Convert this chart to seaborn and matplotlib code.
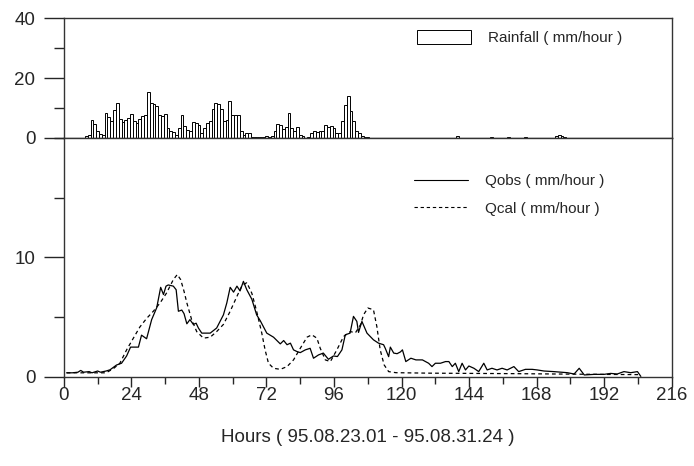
import matplotlib
matplotlib.use('Agg')
import matplotlib.pyplot as plt
import numpy as np
import pandas as pd
import seaborn as sns
from matplotlib.ticker import MultipleLocator

# hourly rainfall (mm/hour)
rain_hours = list(range(8, 109)) + [140, 152, 158, 164, 175, 176, 177, 178]
rain_mm = [0.5, 1.0, 6.0, 4.8, 2.2, 1.4, 1.1, 8.4, 7.0, 5.5,
           9.2, 11.6, 6.3, 5.3, 5.9, 6.7, 8.1, 5.6, 5.0, 6.3,
           7.4, 7.5, 15.2, 11.7, 11.4, 10.5, 7.8, 7.2, 8.0, 3.3,
           2.2, 1.9, 1.1, 3.3, 7.8, 4.1, 2.8, 2.4, 5.2, 5.0,
           4.4, 1.7, 3.3, 5.0, 5.6, 9.8, 11.7, 11.4, 9.8, 5.6,
           6.1, 12.4, 7.6, 7.6, 7.8, 2.4, 1.1, 1.5, 1.7, 0.3,
           0.3, 0.2, 0.2, 0.3, 0.5, 0.4, 0.5, 2.2, 4.7, 4.4,
           3.1, 3.5, 8.3, 3.3, 2.2, 3.5, 1.1, 0.5, 0.0, 0.3,
           1.7, 2.4, 2.0, 2.2, 2.4, 4.2, 3.5, 3.9, 3.3, 1.7,
           1.7, 5.6, 11.1, 13.9, 8.9, 5.6, 2.2, 1.7, 0.5, 0.3,
           0.2, 0.5, 0.15, 0.15, 0.15, 0.6, 0.9, 0.8, 0.4]

# observed discharge
qobs_hours = [1, 3, 5, 6, 7, 9, 10, 12, 13, 15, 16.4, 18.7, 20.5, 22.3, 23.7,
              26.5, 27.6, 29.4, 31.2, 33.0, 34.4, 35.4, 36.3, 37.1, 38.9,
              39.9, 40.7, 41.9, 42.7, 43.7, 44.8, 46.0, 47.0, 47.8, 49.0,
              52.0, 54.3, 56.7, 57.9, 59.1, 60.3, 61.5, 62.6, 63.8, 65.0,
              66.8, 68.5, 69.8, 72.1, 74.5, 76.9, 78.1, 79.3, 80.5, 81.6,
              82.8, 84.0, 85.8, 87.5, 88.7, 90.5, 92.2, 94.0, 95.8, 97.2,
              98.8, 100.0, 101.7, 102.9, 104.1, 104.7, 105.9, 107.7, 110.0,
              111.8, 113.6, 114.2, 115.4, 116.0, 117.2, 118.4, 119.6, 120.3,
              121.5, 123.3, 125.1, 127.4, 129.6, 130.8, 132.0, 133.8, 135.6,
              136.8, 138.0, 139.1, 140.3, 141.5, 142.7, 143.9, 145.7, 147.4,
              149.2, 150.4, 152.1, 153.9, 155.7, 157.5, 159.9, 161.6, 164.0,
              166.4, 168.2, 170.6, 174.1, 178.9, 181.3, 183.1, 184.9, 188.4,
              191.9, 194.3, 196.6, 199.0, 201.4, 203.8, 205.0]
qobs = [0.35, 0.35, 0.4, 0.55, 0.4, 0.45, 0.35, 0.5, 0.4, 0.5, 0.6, 1.0,
        1.15, 1.76, 2.5, 2.5, 3.5, 3.2, 4.8, 5.8, 7.5, 6.9, 7.6, 7.7, 7.6,
        7.3, 5.5, 5.6, 5.3, 4.45, 4.8, 4.4, 4.5, 4.1, 3.67, 3.67, 4.1, 5.2,
        6.2, 7.5, 7.1, 7.6, 7.2, 8.0, 7.3, 6.5, 5.2, 4.7, 3.67, 3.33, 2.77,
        3.05, 2.7, 2.83, 2.27, 2.13, 2.04, 2.27, 2.4, 1.57, 1.85, 2.0, 1.48,
        1.76, 1.71, 2.27, 3.53, 3.67, 5.07, 4.65, 3.73, 4.65, 3.67, 3.11,
        2.83, 2.7, 2.4, 1.7, 2.5, 2.0, 1.95, 2.1, 2.27, 1.29, 1.57, 1.43,
        1.43, 1.15, 0.87, 1.15, 1.15, 1.29, 1.29, 0.87, 1.15, 0.45, 1.15,
        0.59, 0.92, 0.73, 0.45, 1.15, 0.59, 0.73, 0.59, 0.73, 0.59, 0.87,
        0.45, 0.64, 0.64, 0.59, 0.5, 0.45, 0.36, 0.25, 0.73, 0.17, 0.22,
        0.22, 0.3, 0.25, 0.45, 0.36, 0.45, 0.05]

# calculated discharge
qcal_hours = [1, 15, 17.6, 19.9, 22.3, 24.7, 27.0, 29.4, 31.8, 34.2, 36.5,
              38.9, 40.3, 41.5, 42.7, 43.7, 45.4, 47.2, 49.6, 52.0, 54.3,
              56.7, 59.1, 61.5, 63.2, 65.0, 66.8, 68.5, 70.3, 71.5, 72.7,
              74.5, 76.9, 79.3, 81.6, 84.0, 86.4, 88.1, 89.9, 91.1, 92.9,
              94.7, 97.0, 99.4, 101.8, 103.6, 105.4, 106.5, 108.0, 110.0,
              111.2, 112.4, 113.8, 115.4, 118.0, 130.0, 145.0, 160.0, 175.0,
              190.0, 204.0]
qcal = [0.35, 0.35, 0.7, 1.15, 2.27, 3.25, 4.18, 4.9, 5.5, 6.2, 7.03, 8.15,
        8.57, 8.15, 7.17, 6.2, 4.8, 3.8, 3.25, 3.33, 3.8, 4.4, 5.5, 6.75, 7.6,
        7.9, 7.0, 5.5, 3.7, 2.27, 1.15, 0.73, 0.64, 0.87, 1.43, 2.4, 3.33,
        3.53, 3.25, 2.4, 1.43, 1.29, 2.27, 3.39, 3.8, 3.7, 4.37, 5.21, 5.77,
        5.63, 4.23, 2.27, 1.01, 0.45, 0.36, 0.32, 0.3, 0.28, 0.25, 0.22, 0.2]

sns.set_style('ticks')
plt.rcParams['font.family'] = ['Liberation Sans', 'DejaVu Sans']

fig = plt.figure(figsize=(6.94, 4.66), dpi=100)
ax1 = fig.add_axes([0.092, 0.704, 0.876, 0.257])
ax2 = fig.add_axes([0.092, 0.191, 0.876, 0.513])

rain = pd.DataFrame({'hour': rain_hours, 'rain': rain_mm})
sns.histplot(data=rain, x='hour', weights='rain', discrete=True, shrink=1,
             color='white', edgecolor='black', linewidth=0.7, alpha=1,
             label='Rainfall ( mm/hour )', ax=ax1)
ax1.set_xlim(0, 216)
ax1.set_ylim(0, 40)
ax1.set_xticks([])
ax1.set_xlabel('')
ax1.set_ylabel('')
ax1.set_yticks([0, 20, 40])
ax1.yaxis.set_minor_locator(MultipleLocator(10))

flow = pd.concat([
    pd.DataFrame({'hour': qobs_hours, 'q': qobs, 'series': 'Qobs ( mm/hour )'}),
    pd.DataFrame({'hour': qcal_hours, 'q': qcal, 'series': 'Qcal ( mm/hour )'}),
])
sns.lineplot(data=flow, x='hour', y='q', hue='series', style='series',
             palette=['black', 'black'], dashes=[(None, None), (3, 2.5)],
             linewidth=0.9, sort=False, ax=ax2)
ax2.set_xlim(0, 216)
ax2.set_ylim(0, 20)
ax2.set_yticks([0, 10])
ax2.yaxis.set_minor_locator(MultipleLocator(5))
ax2.set_xticks(range(0, 217, 24))
ax2.xaxis.set_minor_locator(MultipleLocator(12))
ax2.set_ylabel('')
ax2.set_xlabel('Hours ( 95.08.23.01 - 95.08.31.24 )', fontsize=13.5, labelpad=18)

for ax in (ax1, ax2):
    for s in ax.spines.values():
        s.set_visible(True)
        s.set_linewidth(1.0)
        s.set_color('#333333')
    ax.tick_params(axis='y', which='major', direction='out', length=14.5,
                   width=1, pad=6, labelsize=13.5)
    ax.tick_params(axis='y', which='minor', direction='out', length=7, width=1)
ax2.tick_params(axis='x', which='major', direction='out', length=7,
                width=1, pad=0.5, labelsize=13.5)
ax2.tick_params(axis='x', which='minor', direction='out', length=5, width=1)

ax1.legend(loc='center left', bbox_to_anchor=(0.559, 0.8375), frameon=False,
           fontsize=11, handlelength=3.5, handleheight=1.0, handletextpad=1.1)
leg = ax2.legend(loc='center left', bbox_to_anchor=(0.554, 0.7615),
                 frameon=False, fontsize=11, handlelength=3.5,
                 handletextpad=1.1, labelspacing=0.9)
for line in leg.get_lines():
    line.set_linewidth(0.8)

fig.savefig('out.png', dpi=100)
